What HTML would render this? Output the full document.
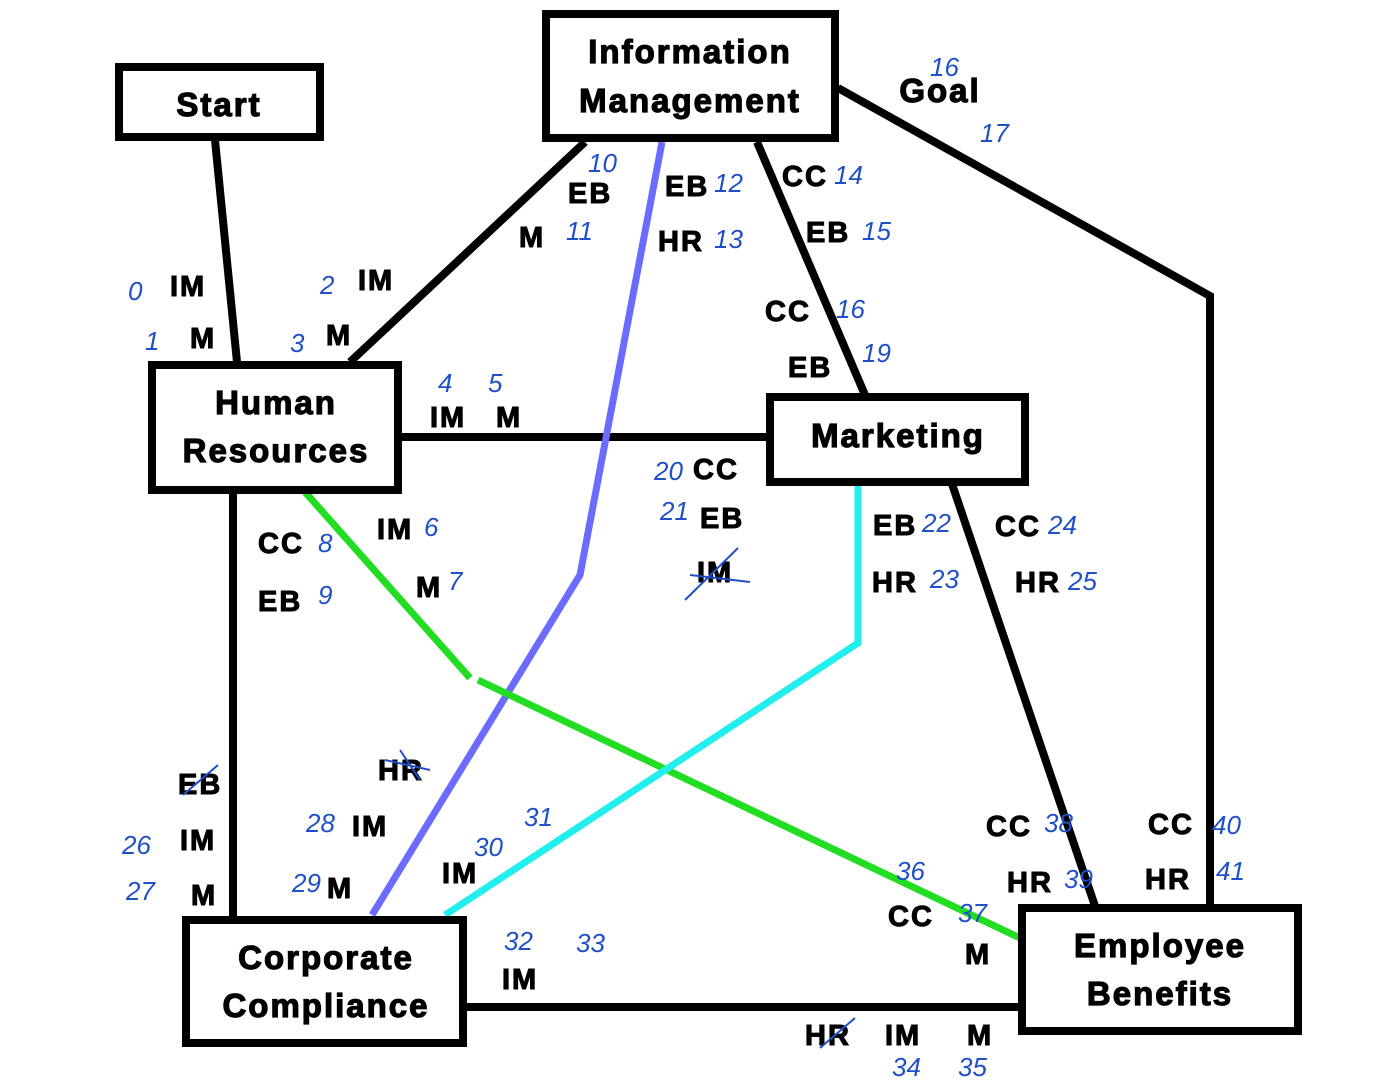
<!DOCTYPE html>
<html><head><meta charset="utf-8"><style>
html,body{margin:0;padding:0;background:#fff;}
svg{display:block;}
.b{font-family:"Liberation Sans",sans-serif;font-weight:bold;font-size:33px;fill:#000;stroke:#000;stroke-width:1.2px;letter-spacing:2px;}
.l{font-family:"Liberation Sans",sans-serif;font-weight:bold;font-size:29px;fill:#000;stroke:#000;stroke-width:1px;letter-spacing:2px;}
.n{font-family:"Liberation Sans",sans-serif;font-style:italic;font-size:26px;fill:#2050c8;}
</style></head><body>
<svg width="1395" height="1089" viewBox="0 0 1395 1089" xmlns="http://www.w3.org/2000/svg">
<g stroke="#000" stroke-width="8" fill="none">
<line x1="215" y1="140" x2="237" y2="362"/>
<line x1="585" y1="142" x2="350" y2="362"/>
<line x1="757" y1="142" x2="865" y2="395"/>
<polyline points="838,88 1210,296 1210,906"/>
<line x1="400" y1="437" x2="768" y2="437"/>
<line x1="952" y1="484" x2="1095" y2="906"/>
<line x1="233" y1="492" x2="233" y2="918"/>
<line x1="465" y1="1007" x2="1020" y2="1007"/>
</g>
<polyline points="662,142 580,575 372,915" stroke="#6b6bff" stroke-width="7" fill="none"/>
<polyline points="305,492 470,678" stroke="#22dd22" stroke-width="7" fill="none"/>
<polyline points="478,680 1020,938" stroke="#22dd22" stroke-width="7" fill="none"/>
<polyline points="858,485 858,643 445,915" stroke="#22eeee" stroke-width="7" fill="none"/>
<g stroke="#000" stroke-width="8" fill="#fff">
<rect x="119" y="67" width="201" height="70"/>
<rect x="546" y="14" width="289" height="124"/>
<rect x="152" y="365" width="246" height="125"/>
<rect x="770" y="397" width="255" height="85"/>
<rect x="186" y="920" width="277" height="123"/>
<rect x="1022" y="908" width="276" height="123"/>
</g>
<g class="b" text-anchor="middle">
<text x="219" y="116">Start</text>
<text x="690" y="63">Information</text>
<text x="690" y="112">Management</text>
<text x="276" y="414">Human</text>
<text x="276" y="462">Resources</text>
<text x="898" y="447">Marketing</text>
<text x="326" y="969">Corporate</text>
<text x="326" y="1017">Compliance</text>
<text x="1160" y="957">Employee</text>
<text x="1160" y="1005">Benefits</text>
<text x="940" y="102">Goal</text>
</g>
<g class="l">
<text x="170" y="296">IM</text><text x="190" y="348">M</text>
<text x="358" y="290">IM</text><text x="326" y="345">M</text>
<text x="568" y="203">EB</text><text x="519" y="247">M</text>
<text x="665" y="196">EB</text><text x="658" y="251">HR</text>
<text x="782" y="186">CC</text><text x="806" y="242">EB</text>
<text x="765" y="321">CC</text><text x="788" y="377">EB</text>
<text x="430" y="427">IM</text><text x="496" y="427">M</text>
<text x="693" y="479">CC</text><text x="700" y="528">EB</text>
<text x="697" y="582">IM</text>
<text x="258" y="553">CC</text><text x="258" y="611">EB</text>
<text x="377" y="539">IM</text><text x="416" y="597">M</text>
<text x="873" y="535">EB</text><text x="872" y="592">HR</text>
<text x="995" y="536">CC</text><text x="1015" y="592">HR</text>
<text x="178" y="794">EB</text><text x="180" y="850">IM</text><text x="191" y="905">M</text>
<text x="378" y="780">HR</text>
<text x="352" y="836">IM</text><text x="327" y="898">M</text>
<text x="442" y="883">IM</text>
<text x="502" y="989">IM</text>
<text x="986" y="836">CC</text><text x="1007" y="892">HR</text>
<text x="888" y="926">CC</text><text x="965" y="964">M</text>
<text x="1148" y="834">CC</text><text x="1145" y="889">HR</text>
<text x="805" y="1045">HR</text><text x="885" y="1045">IM</text><text x="967" y="1045">M</text>
</g>
<g stroke="#2050c8" stroke-width="2" fill="none">
<line x1="685" y1="600" x2="738" y2="548"/><line x1="690" y1="575" x2="750" y2="582"/>
<line x1="183" y1="795" x2="218" y2="765"/>
<line x1="385" y1="760" x2="430" y2="770"/><line x1="400" y1="750" x2="420" y2="780"/>
<line x1="820" y1="1048" x2="855" y2="1018"/>
</g>
<g class="n">
<text x="128" y="300">0</text><text x="145" y="350">1</text>
<text x="320" y="294">2</text><text x="290" y="352">3</text>
<text x="438" y="392">4</text><text x="488" y="392">5</text>
<text x="424" y="536">6</text><text x="448" y="590">7</text>
<text x="318" y="552">8</text><text x="318" y="604">9</text>
<text x="588" y="172">10</text><text x="566" y="240">11</text>
<text x="714" y="192">12</text><text x="714" y="248">13</text>
<text x="834" y="184">14</text><text x="862" y="240">15</text>
<text x="836" y="318">16</text><text x="862" y="362">19</text>
<text x="930" y="76">16</text><text x="980" y="142">17</text>
<text x="654" y="480">20</text><text x="660" y="520">21</text>
<text x="922" y="532">22</text><text x="930" y="588">23</text>
<text x="1048" y="534">24</text><text x="1068" y="590">25</text>
<text x="122" y="854">26</text><text x="126" y="900">27</text>
<text x="306" y="832">28</text><text x="292" y="892">29</text>
<text x="474" y="856">30</text><text x="524" y="826">31</text>
<text x="504" y="950">32</text><text x="576" y="952">33</text>
<text x="892" y="1076">34</text><text x="958" y="1076">35</text>
<text x="896" y="880">36</text><text x="958" y="922">37</text>
<text x="1044" y="832">38</text><text x="1064" y="888">39</text>
<text x="1212" y="834">40</text><text x="1216" y="880">41</text>
</g>
</svg>
</body></html>
